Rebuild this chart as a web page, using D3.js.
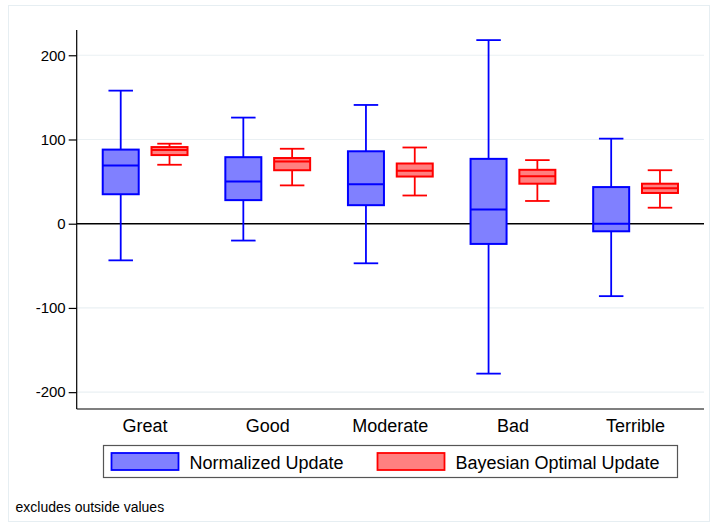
<!DOCTYPE html>
<html>
<head>
<meta charset="utf-8">
<script src="https://cdn.jsdelivr.net/npm/d3@7"></script>
<style>
  html, body { margin: 0; padding: 0; background: #fff; }
  svg { display: block; font-family: "Liberation Sans", Arial, Helvetica, sans-serif; }
</style>
</head>
<body>
<svg id="chart" width="711" height="523"></svg>
<script>
// Rating groups along the x axis
const categories = ["Great", "Good", "Moderate", "Bad", "Terrible"];
const seriesNames = ["Normalized Update", "Bayesian Optimal Update"];

// Box summaries per group: [lower adjacent, q1, median, q3, upper adjacent]
const normalizedUpdate = [
  [-43.5, 35, 69, 88, 158],
  [-20, 28, 50, 79, 126],
  [-47, 22, 47, 86, 141],
  [-178, -24, 17, 77, 218],
  [-86, -9, 0, 43.5, 101]
];
const bayesianUpdate = [
  [70, 81.5, 87.5, 91, 95],
  [45.5, 63.5, 74, 78, 89],
  [33.5, 56, 63, 71.5, 90.5],
  [27, 47.5, 56.5, 64, 75.5],
  [19, 36.5, 42, 47.5, 63.5]
];
const yTicks = [-200, -100, 0, 100, 200];
const noteText = "excludes outside values";

const seriesStyle = {
  "Normalized Update": { fill: "#8080ff", stroke: "#0000ff" },
  "Bayesian Optimal Update": { fill: "#ff8080", stroke: "#ff0000" }
};

const svg = d3.select("#chart");
const plotLeft = 76.7, plotRight = 704, plotTop = 30, plotBottom = 409;

// outer frame
svg.append("rect")
  .attr("x", 8.5).attr("y", 5.5).attr("width", 701).attr("height", 516)
  .attr("fill", "none").attr("stroke", "#e6eef2").attr("stroke-width", 1);

const x = d3.scalePoint().domain(categories).range([plotLeft, plotRight]).padding(0.558);
const xs = d3.scaleBand().domain(seriesNames).range([-48.8, 48.8]);
const y = d3.scaleLinear().domain([-220, 230]).range([plotBottom, plotTop]);

// horizontal grid
svg.append("g").selectAll("line")
  .data(yTicks.filter(t => t !== 0))
  .join("line")
  .attr("x1", plotLeft).attr("x2", plotRight)
  .attr("y1", d => y(d)).attr("y2", d => y(d))
  .attr("stroke", "#eaf0f3").attr("stroke-width", 1.2);

// zero reference line
svg.append("line")
  .attr("x1", plotLeft).attr("x2", plotRight)
  .attr("y1", y(0)).attr("y2", y(0))
  .attr("stroke", "#000").attr("stroke-width", 1.5);

// y axis (plain hyphen for negatives)
const yAxis = d3.axisLeft(y).tickValues(yTicks).tickSize(8).tickPadding(3).tickFormat(d => String(d));
const gy = svg.append("g").attr("transform", `translate(${plotLeft},0)`).call(yAxis);
gy.select(".domain").attr("d", `M0,${plotTop}V${plotBottom}`).attr("stroke", "#000").attr("stroke-width", 1.2);
gy.selectAll(".tick line").attr("stroke", "#000").attr("stroke-width", 1.2);
gy.selectAll(".tick text").attr("font-size", 15).attr("fill", "#000")
  .attr("font-family", "'Liberation Sans', Arial, sans-serif");

// x axis line and group labels
svg.append("line")
  .attr("x1", plotLeft).attr("x2", plotRight).attr("y1", plotBottom).attr("y2", plotBottom)
  .attr("stroke", "#000").attr("stroke-width", 1.2);
svg.append("g").selectAll("text")
  .data(categories)
  .join("text")
  .attr("x", d => x(d)).attr("y", 431.5)
  .attr("text-anchor", "middle").attr("font-size", 18).attr("fill", "#000")
  .text(d => d);

// boxes
const boxW = 36, capW = 24.5;
const rows = [];
categories.forEach((c, i) => {
  rows.push({ cat: c, series: seriesNames[0], v: normalizedUpdate[i] });
  rows.push({ cat: c, series: seriesNames[1], v: bayesianUpdate[i] });
});

const boxes = svg.append("g").selectAll("g")
  .data(rows)
  .join("g")
  .attr("transform", d => `translate(${x(d.cat) + xs(d.series) + xs.bandwidth() / 2},0)`);

boxes.each(function (d) {
  const g = d3.select(this);
  const st = seriesStyle[d.series];
  const [lo, q1, med, q3, hi] = d.v;
  // whiskers
  g.append("line").attr("x1", 0).attr("x2", 0).attr("y1", y(hi)).attr("y2", y(q3))
    .attr("stroke", st.stroke).attr("stroke-width", 1.8);
  g.append("line").attr("x1", 0).attr("x2", 0).attr("y1", y(q1)).attr("y2", y(lo))
    .attr("stroke", st.stroke).attr("stroke-width", 1.8);
  // caps
  [lo, hi].forEach(v => {
    g.append("line").attr("x1", -capW / 2).attr("x2", capW / 2).attr("y1", y(v)).attr("y2", y(v))
      .attr("stroke", st.stroke).attr("stroke-width", 1.8);
  });
  // box
  g.append("rect")
    .attr("x", -boxW / 2).attr("width", boxW)
    .attr("y", y(q3)).attr("height", y(q1) - y(q3))
    .attr("fill", st.fill).attr("stroke", st.stroke).attr("stroke-width", 2);
  // median
  g.append("line").attr("x1", -boxW / 2).attr("x2", boxW / 2).attr("y1", y(med)).attr("y2", y(med))
    .attr("stroke", st.stroke).attr("stroke-width", 2);
});

// legend
const legend = svg.append("g");
legend.append("rect")
  .attr("x", 103.5).attr("y", 445.5).attr("width", 574).attr("height", 32)
  .attr("fill", "#fff").attr("stroke", "#555").attr("stroke-width", 1.2);
const legendX = [111.5, 377.5];
seriesNames.forEach((s, i) => {
  legend.append("rect")
    .attr("x", legendX[i]).attr("y", 453).attr("width", 67).attr("height", 17)
    .attr("fill", seriesStyle[s].fill).attr("stroke", seriesStyle[s].stroke).attr("stroke-width", 1.8);
  legend.append("text")
    .attr("x", legendX[i] + 78).attr("y", 469)
    .attr("font-size", 18).attr("fill", "#000")
    .text(s);
});

// note
svg.append("text")
  .attr("x", 15.5).attr("y", 511.5)
  .attr("font-size", 14).attr("fill", "#000")
  .text(noteText);
</script>
</body>
</html>
